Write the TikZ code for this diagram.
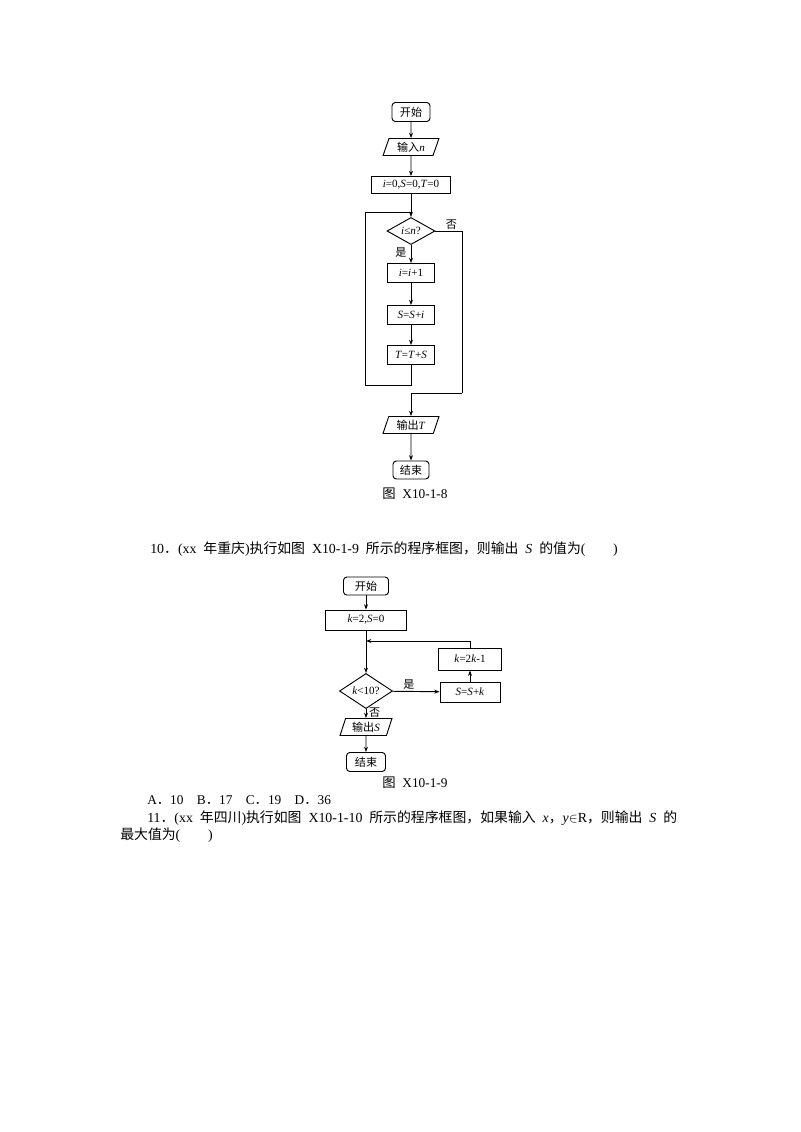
\documentclass[tikz,border=0pt]{standalone}
\usepackage{fontspec}
\setmainfont{Liberation Serif}
\newfontfamily\tfont[WordSpace=2]{Liberation Serif}
\newfontfamily\cjk{Noto Sans CJK SC}
\usetikzlibrary{shapes.geometric,arrows.meta}
\newcommand\zh[1]{{\cjk #1}}
\begin{document}
\begin{tikzpicture}[x=0.75pt,y=-0.75pt,
  every node/.style={font=\fontsize{8.3pt}{9pt}\selectfont, inner sep=0pt},
  base/.style={draw, line width=0.7pt},
  term/.style={base, rounded corners=2.5pt},
  proc/.style={base},
  io/.style={base, trapezium, trapezium left angle=70, trapezium right angle=110, trapezium stretches=true},
  dec/.style={base, diamond},
  ln/.style={line width=0.7pt},
  arr/.style={ln, -{Stealth[length=4pt,width=3pt]}},
  txt/.style={anchor=west, font=\tfont\fontsize{10.4pt}{12pt}\selectfont},
  opttxt/.style={anchor=west, font=\tfont\fontsize{10pt}{12pt}\selectfont},
  figcap/.style={font=\tfont\fontsize{10pt}{12pt}\selectfont}
]
\useasboundingbox[fill=white] (0,0) rectangle (800,1132);

% ---------- Figure X10-1-8 ----------
\node[term, minimum width=28.5pt, minimum height=14.25pt] (s1) at (411,112) {\zh{开始}};
\node[io, minimum width=42pt, minimum height=12.75pt] (in1) at (411,147) {\zh{输入}\textit{n}};
\node[proc, minimum width=59pt, minimum height=12.75pt] (i1) at (411,185) {\textit{i}=0,\textit{S}=0,\textit{T}=0};
\node[dec, minimum width=36pt, minimum height=18.75pt] (d1) at (411,231) {\textit{i}≤\textit{n}?};
\node[proc, minimum width=35.25pt, minimum height=14.25pt] (p1) at (411,273) {\textit{i}=\textit{i}+1};
\node[proc, minimum width=35.25pt, minimum height=14.25pt] (p2) at (411,315) {\textit{S}=\textit{S}+\textit{i}};
\node[proc, minimum width=35.25pt, minimum height=14.25pt] (p3) at (411,355) {\textit{T}=\textit{T}+\textit{S}};
\node[io, minimum width=42pt, minimum height=12.75pt] (o1) at (411,425) {\zh{输出}\textit{T}};
\node[term, minimum width=27pt, minimum height=13.5pt] (e1) at (411,470) {\zh{结束}};
\node[figcap] (c1) at (415,494) {\zh{图} X10-1-8};

\coordinate (j1) at (411,212);
\coordinate (l1) at (365,385);
\coordinate (r1) at (462,393);

\draw[arr] (s1) -- (in1);
\draw[arr] (in1) -- (i1);
\draw[arr] (i1) -- (d1);
\draw[arr] (d1) -- node[pos=0.4, left=3pt] {\zh{是}} (p1);
\draw[arr] (p1) -- (p2);
\draw[arr] (p2) -- (p3);
\draw[ln] (p3.south) |- (l1) |- (j1);
\draw[ln] (d1.east) -| node[pos=0.3, above=1pt] {\zh{否}} (r1);
\draw[arr] (r1) -| (o1.north);
\draw[arr] (o1) -- (e1);

% ---------- Question 10 text ----------
\node[txt] (t10) at (150,549) {10\zh{．}(xx \zh{年重庆})\zh{执行如图} X10-1-9 \zh{所示的程序框图，则输出} \textit{S} \zh{的值为}(\zh{　　})};

% ---------- Figure X10-1-9 ----------
\node[term, minimum width=33.75pt, minimum height=13.5pt] (s2) at (366,586) {\zh{开始}};
\node[proc, minimum width=60.75pt, minimum height=15pt] (p4) at (366,620) {\textit{k}=2,\textit{S}=0};
\node[dec, minimum width=39.75pt, minimum height=18.75pt] (d2) at (366,691) {\textit{k}<10?};
\node[io, minimum width=39pt, minimum height=12.75pt] (o2) at (366,727) {\zh{输出}\textit{S}};
\node[term, minimum width=29.25pt, minimum height=14.25pt] (e2) at (366,762) {\zh{结束}};
\node[proc, minimum width=47.25pt, minimum height=16.5pt] (p5) at (470,659) {\textit{k}=2\textit{k}-1};
\node[proc, minimum width=45pt, minimum height=15pt] (p6) at (470,692) {\textit{S}=\textit{S}+\textit{k}};
\node[figcap] (c2) at (415,783) {\zh{图} X10-1-9};

\coordinate (j2) at (366,641);

\draw[arr] (s2) -- (p4);
\draw[arr] (p4) -- (d2);
\draw[arr] (p5.north) |- (j2);
\draw[arr] (d2) -- node[pos=0.35, above=1pt] {\zh{是}} (p6);
\draw[arr] (p6) -- (p5);
\draw[arr] (d2) -- node[pos=0.45, right=2pt] {\zh{否}} (o2);
\draw[arr] (o2) -- (e2);

% ---------- Options and Question 11 ----------
\node[opttxt] (opt) at (147,800) {A\zh{．}10\zh{　}B\zh{．}17\zh{　}C\zh{．}19\zh{　}D\zh{．}36};
\node[txt] (t11) at (147,818) {11\zh{．}(xx \zh{年四川})\zh{执行如图} X10-1-10 \zh{所示的程序框图，如果输入} \textit{x}\zh{，}\textit{y}$\in$R\zh{，则输出} \textit{S} \zh{的}};
\node[txt] (t12) at (120,835) {\zh{最大值为}(\zh{　　})};
\end{tikzpicture}
\end{document}
